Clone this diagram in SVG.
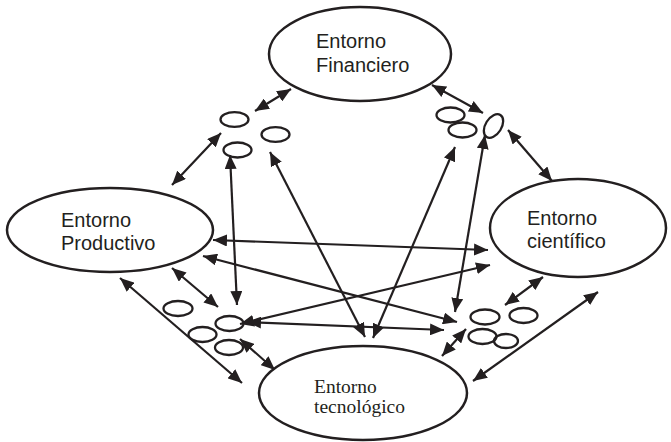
<svg xmlns="http://www.w3.org/2000/svg" width="671" height="442" viewBox="0 0 671 442">
<style>
.big{fill:#fff;stroke:#231f20;stroke-width:2.5}
.sm{fill:none;stroke:#231f20;stroke-width:2.3}
.lab{font-family:"Liberation Sans",Arial,sans-serif;font-size:20px;fill:#231f20}
.labs{font-family:"Liberation Serif","Times New Roman",serif;font-size:19.5px;fill:#231f20}
#connectors line{stroke:#231f20;stroke-width:2.2;marker-start:url(#ah);marker-end:url(#ah)}
</style>
<defs>
<marker id="ah" markerUnits="userSpaceOnUse" markerWidth="14" markerHeight="12" refX="14" refY="6" orient="auto-start-reverse" viewBox="0 0 14 12">
<path d="M0,0 L14,6 L0,12 z" fill="#231f20"/>
</marker>
</defs>
<rect width="671" height="442" fill="#fff"/>
<g id="connectors">
<line x1="255" y1="111" x2="291" y2="89"/>
<line x1="432" y1="85" x2="483" y2="113"/>
<line x1="221" y1="133" x2="172" y2="185"/>
<line x1="230" y1="155" x2="237" y2="305"/>
<line x1="270" y1="152" x2="365" y2="337"/>
<line x1="455" y1="147" x2="373" y2="338"/>
<line x1="485" y1="135" x2="455" y2="312"/>
<line x1="508" y1="130" x2="552" y2="181"/>
<line x1="213" y1="240" x2="488" y2="250"/>
<line x1="203" y1="256" x2="457" y2="322"/>
<line x1="490" y1="265" x2="240" y2="324"/>
<line x1="247" y1="322" x2="444" y2="330"/>
<line x1="172" y1="268" x2="218" y2="307"/>
<line x1="120" y1="278" x2="242" y2="383"/>
<line x1="240" y1="339" x2="275" y2="370"/>
<line x1="505" y1="305" x2="543" y2="277"/>
<line x1="442" y1="356" x2="466" y2="329"/>
<line x1="473" y1="381" x2="598" y2="292"/>
</g>
<g id="financiero">
<ellipse class="big" cx="360" cy="54" rx="91" ry="47"/>
<text class="lab" x="316" y="48">Entorno</text>
<text class="lab" x="316" y="72">Financiero</text>
</g>
<g id="productivo">
<ellipse class="big" cx="110" cy="230" rx="103" ry="42"/>
<text class="lab" x="61" y="227">Entorno</text>
<text class="lab" x="61" y="250">Productivo</text>
</g>
<g id="cientifico">
<ellipse class="big" cx="578" cy="228" rx="88" ry="49"/>
<text class="lab" x="527" y="225">Entorno</text>
<text class="lab" x="527" y="248">científico</text>
</g>
<g id="tecnologico">
<ellipse class="big" cx="363" cy="393" rx="104" ry="47"/>
<text class="labs" x="314" y="393">Entorno</text>
<text class="labs" x="314" y="413">tecnológico</text>
</g>
<g id="cluster-top-left">
<ellipse class="sm" cx="234.5" cy="119.5" rx="14" ry="7.3"/>
<ellipse class="sm" cx="275.5" cy="134.5" rx="14" ry="7.3"/>
<ellipse class="sm" cx="237.5" cy="150" rx="14" ry="7.5"/>
</g>
<g id="cluster-top-right">
<ellipse class="sm" cx="450.5" cy="115" rx="14" ry="7.5"/>
<ellipse class="sm" cx="462.5" cy="130" rx="14" ry="7.5"/>
<ellipse class="sm" cx="493.5" cy="126" rx="13" ry="8" transform="rotate(-58 493.5 126)"/>
</g>
<g id="cluster-bottom-left">
<ellipse class="sm" cx="178" cy="308.5" rx="14.5" ry="7.5"/>
<ellipse class="sm" cx="229.5" cy="323.5" rx="14" ry="7.5"/>
<ellipse class="sm" cx="202.5" cy="334.5" rx="14" ry="7.5"/>
<ellipse class="sm" cx="229" cy="347.5" rx="14" ry="7.5"/>
</g>
<g id="cluster-bottom-right">
<ellipse class="sm" cx="485" cy="317" rx="14.5" ry="7.5"/>
<ellipse class="sm" cx="523.5" cy="315.5" rx="14" ry="7.5"/>
<ellipse class="sm" cx="482.5" cy="336.5" rx="14" ry="7.5"/>
<ellipse class="sm" cx="506" cy="341" rx="12" ry="7"/>
</g>
</svg>
